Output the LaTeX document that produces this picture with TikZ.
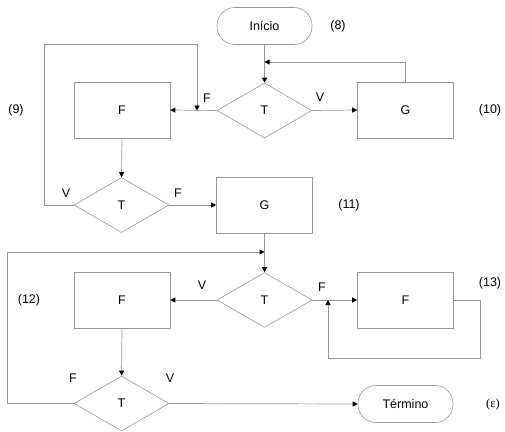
\documentclass[tikz,border=0pt]{standalone}
\usepackage{fontspec}
\setmainfont{Liberation Sans}
\newfontfamily\serifx{Liberation Serif}
\usetikzlibrary{shapes.geometric,arrows.meta}
\definecolor{lncol}{RGB}{150,150,150}
\tikzset{
  every node/.style={font=\fontsize{12.5}{14}\selectfont},
  procbox/.style={draw=lncol,line width=0.6pt,minimum width=96pt,minimum height=56pt,inner sep=0pt},
  decbox/.style={draw=lncol,line width=0.6pt,diamond,minimum width=95pt,minimum height=55pt,inner sep=0pt,shape aspect=1.727},
  termbox/.style={draw=lncol,line width=0.6pt,rounded corners=18pt,minimum width=95pt,minimum height=37pt,inner sep=0pt},
  conn/.style={draw=lncol,line width=0.7pt},
  arr/.style={conn,-{Triangle[black,fill=black,length=5pt,width=5pt]}},
  lbl/.style={inner sep=0pt}
}
\begin{document}
\begin{tikzpicture}[x=1pt,y=-1pt]
\useasboundingbox (0,0) rectangle (505,431);
% nodes
\node[termbox] (ini) at (264.5,26) {Início};
\node[decbox] (d1) at (264.5,110.5) {T};
\node[procbox] (f1) at (122,110) {F};
\node[procbox] (g1) at (405.5,110) {G};
\node[decbox] (d2) at (121.5,205) {T};
\node[procbox] (g2) at (264.5,205) {G};
\node[decbox] (d3) at (264.5,300) {T};
\node[procbox] (f3) at (122,300) {F};
\node[procbox] (f4) at (405.5,300) {F};
\node[decbox] (d4) at (121.5,403.5) {T};
\node[termbox] (term) at (405.5,404) {Término};
% coordinates
\coordinate (j1) at (264.5,62);
\coordinate (c1) at (44,44);
\coordinate (j2) at (197,110.5);
\coordinate (c2) at (7,252);
\coordinate (j3) at (264.5,252);
\coordinate (c3) at (480,358);
\coordinate (j4) at (328,300);
% connectors
\draw[arr] (ini.south) -- (d1.north);
\draw[arr] (g1.north) |- (j1);
\draw[arr] (d1.west) -- (f1.east);
\draw[arr] (d1.east) -- (g1.west);
\draw[arr] (f1.south) -- (d2.north);
\draw[arr] (d2.west) -| (c1) -| (j2);
\draw[arr] (d2.east) -- (g2.west);
\draw[arr] (g2.south) -- (d3.north);
\draw[arr] (d4.west) -| (c2) -- (j3);
\draw[arr] (d3.west) -- (f3.east);
\draw[arr] (d3.east) -- (f4.west);
\draw[arr] (f4.east) -| (c3) -| (j4);
\draw[arr] (f3.south) -- (d4.north);
\draw[arr] (d4.east) -- (term.west);
% labels
\node[lbl] (l8) at (338,26) {(8)};
\node[lbl] (lF1) at (207,98) {F};
\node[lbl] (lV1) at (320,97) {V};
\node[lbl] (l9) at (16,110) {(9)};
\node[lbl] (l10) at (490,110) {(10)};
\node[lbl] (lV2) at (66,193) {V};
\node[lbl] (lF2) at (178,193) {F};
\node[lbl] (l11) at (349,205) {(11)};
\node[lbl] (lV3) at (202,285) {V};
\node[lbl] (lF3) at (322,287) {F};
\node[lbl] (l12) at (29,300) {(12)};
\node[lbl] (l13) at (490,283) {(13)};
\node[lbl] (lF4) at (73,378) {F};
\node[lbl] (lV4) at (170,378) {V};
\node[lbl] (leps) at (493,404) {\serifx (ε)};
\end{tikzpicture}
\end{document}
